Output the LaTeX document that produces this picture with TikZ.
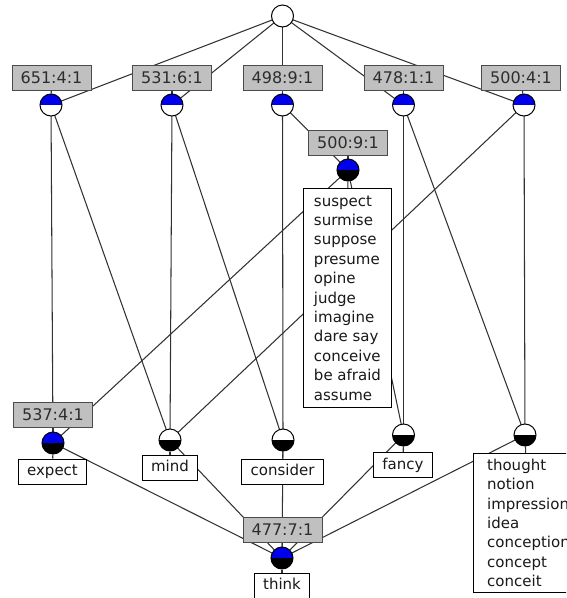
\documentclass[tikz,border=0pt]{standalone}
\usepackage{fontspec}
\setmainfont{DejaVu Sans}
\definecolor{conceptblue}{RGB}{0,0,235}
\definecolor{labelgray}{RGB}{192,192,192}
\definecolor{boxborder}{RGB}{75,75,75}
\definecolor{labeltext}{RGB}{45,45,45}
\definecolor{edgegray}{RGB}{50,50,50}
\definecolor{wordtext}{RGB}{25,25,25}
\pgfdeclarelayer{paper}
\pgfdeclarelayer{edges}
\pgfsetlayers{paper,edges,main}
\begin{document}
\begin{tikzpicture}[x=1pt,y=-1pt,
  edge/.style={draw=edgegray, line width=1.05pt},
  concept/.style={circle, draw=black, line width=1pt, minimum size=22pt,
    inner sep=0pt, fill=white},
  plainnode/.style={concept},
  attrnode/.style={concept, path picture={
    \fill[conceptblue] (path picture bounding box.west) rectangle (path picture bounding box.north east);}},
  fullnode/.style={concept, path picture={
    \fill[conceptblue] (path picture bounding box.west) rectangle (path picture bounding box.north east);
    \fill[black] (path picture bounding box.west) rectangle (path picture bounding box.south east);}},
  objnode/.style={concept, path picture={
    \fill[black] (path picture bounding box.west) rectangle (path picture bounding box.south east);}},
  labelbox/.style={draw=boxborder, fill=labelgray, line width=1pt,
    minimum width=79pt, minimum height=25pt, inner sep=0pt, text=labeltext,
    text height=11.5pt, text depth=0pt, font=\fontsize{16}{18}\selectfont},
  wordbox/.style={draw=black, fill=white, line width=1pt, minimum height=25pt,
    inner xsep=9pt, inner ysep=0pt, text=wordtext,
    text height=11pt, text depth=3pt, font=\fontsize{15}{18}\selectfont},
  listbox/.style={draw=black, fill=white, line width=1pt, align=left,
    inner xsep=8pt, inner ysep=0pt, text=wordtext, anchor=north west,
    font=\fontsize{15}{19.4}\selectfont}
]
\useasboundingbox (0,0) rectangle (566,598);
\begin{pgfonlayer}{paper}
  \fill[white] (0,0) rectangle (566,598);
\end{pgfonlayer}
\clip (0,0) rectangle (566,598);

% concept circles
\node[plainnode] (ctop) at (282.5,16) {};
\node[attrnode] (c651) at (51,105) {};
\node[attrnode] (c531) at (172,105) {};
\node[attrnode] (c498) at (282.5,105) {};
\node[attrnode] (c478) at (403.5,105) {};
\node[attrnode] (c500a) at (524,105) {};
\node[fullnode] (c500b) at (348,170) {};
\node[fullnode] (c537) at (53,443) {};
\node[objnode] (cmind) at (170,440) {};
\node[objnode] (cconsider) at (283,440) {};
\node[objnode] (cfancy) at (403.5,435) {};
\node[objnode] (cthought) at (525,435) {};
\node[fullnode] (c477) at (282,558) {};

% attribute labels
\node[labelbox] (l651) at (51.5,77.5) {651:4:1};
\node[labelbox] (l531) at (172,77.5) {531:6:1};
\node[labelbox] (l498) at (282.5,77.5) {498:9:1};
\node[labelbox] (l478) at (403.5,77.5) {478:1:1};
\node[labelbox] (l500a) at (521,77.5) {500:4:1};
\node[labelbox] (l500b) at (348,142.5) {500:9:1};
\node[labelbox] (l537) at (53,415) {537:4:1};
\node[labelbox] (l477) at (282.5,530) {477:7:1};

% object labels
\node[listbox, minimum width=88pt, minimum height=219pt] (osuspect) at (303,188)
  {suspect\\surmise\\suppose\\presume\\opine\\judge\\imagine\\dare say\\conceive\\be afraid\\assume};
\node[wordbox] (oexpect) at (52.5,471.5) {expect};
\node[wordbox] (omind) at (170,467.5) {mind};
\node[wordbox] (oconsider) at (282.5,471.5) {consider};
\node[wordbox] (ofancy) at (403,465) {fancy};
\node[listbox, minimum width=110pt, minimum height=139pt] (othought) at (473,453)
  {thought\\notion\\impression\\idea\\conception\\concept\\conceit};
\node[wordbox] (othink) at (282,585.5) {think};

% lattice edges and label stubs, kept under the nodes
\begin{pgfonlayer}{edges}
  \foreach \a/\b in {ctop/c651, ctop/c531, ctop/c498, ctop/c478, ctop/c500a,
      c651/c537, c651/cmind, c531/cmind, c531/cconsider,
      c498/cconsider, c498/c500b, c478/cfancy, c478/cthought,
      c500a/cthought, c500a/cmind, c500b/c537, c500b/cfancy,
      c537/c477, cmind/c477, cconsider/c477, cfancy/c477, cthought/c477}
    \draw[edge] (\a.center) -- (\b.center);
  \foreach \a/\b in {l651/c651, l531/c531, l498/c498, l478/c478, l500a/c500a,
      l500b/c500b, l537/c537, l477/c477,
      c500b/osuspect, c537/oexpect, cmind/omind, cconsider/oconsider,
      cfancy/ofancy, cthought/othought, c477/othink}
    \draw[edge] (\a) -- (\b);
\end{pgfonlayer}
\end{tikzpicture}
\end{document}
